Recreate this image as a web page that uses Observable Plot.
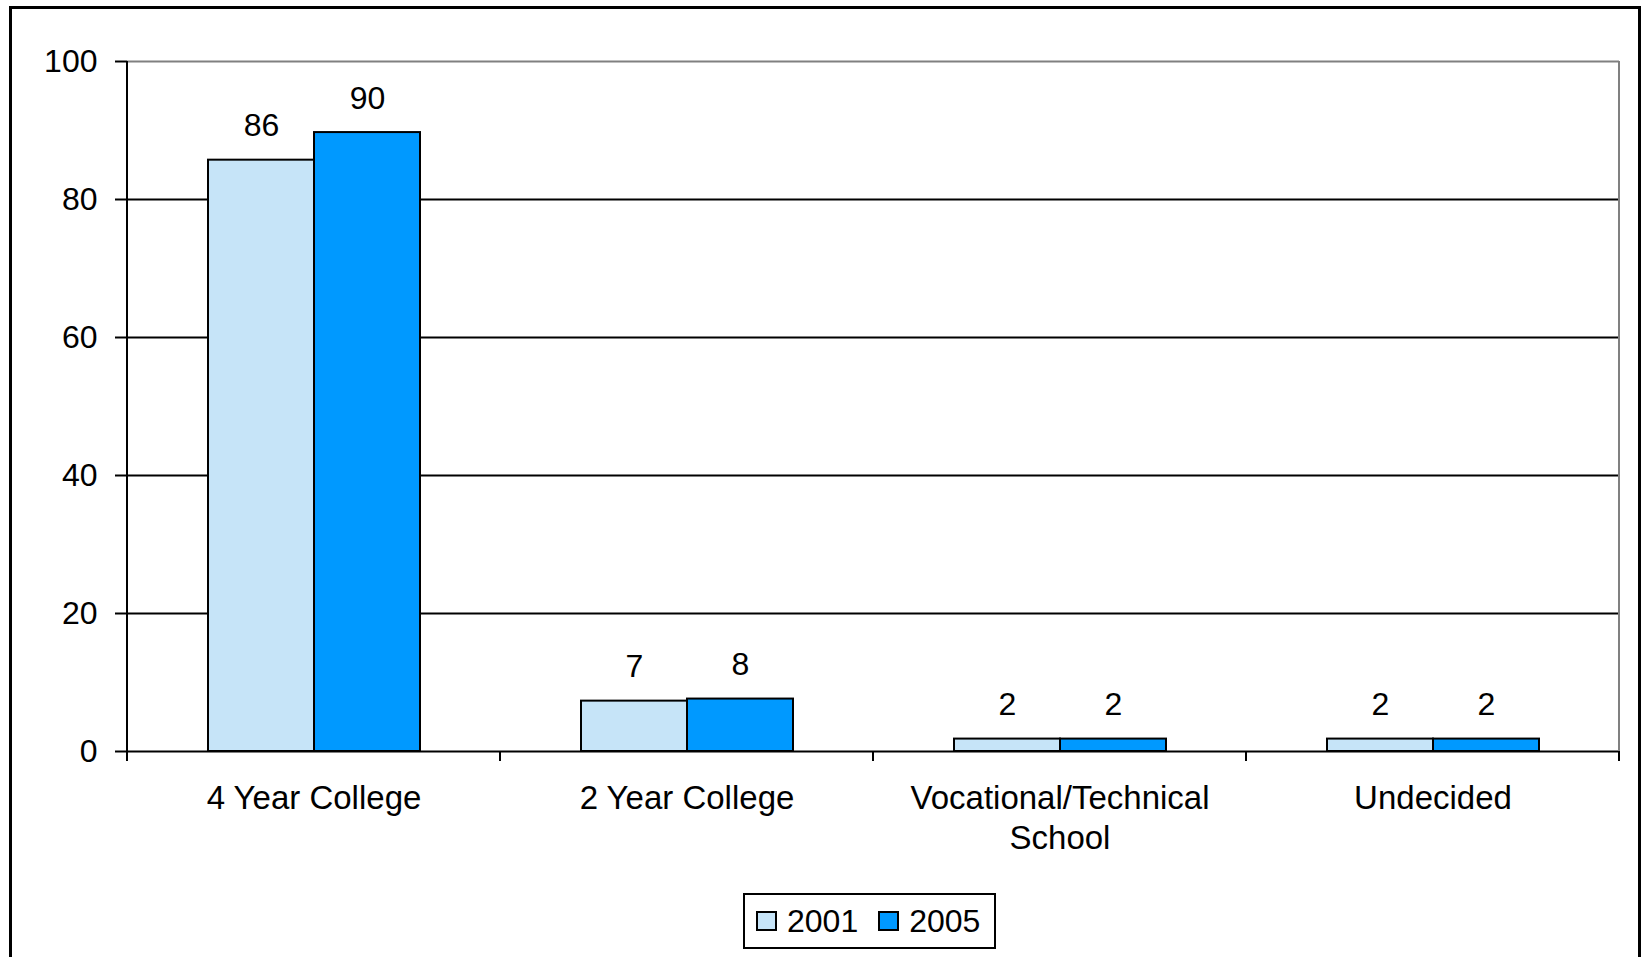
<!DOCTYPE html>
<html>
<head>
<meta charset="utf-8">
<script src="https://cdn.jsdelivr.net/npm/d3@7"></script>
<script src="https://cdn.jsdelivr.net/npm/@observablehq/plot@0.6"></script>
<style>
  body { margin: 0; background: #fff; font-family: "Liberation Sans", Arial, sans-serif; }
  #frame { position: absolute; left: 9px; top: 6px; width: 1632px; height: 970px; border: 3px solid #000; box-sizing: border-box; }
  #chart { position: absolute; left: 0; top: 0; }
  #legend { position: absolute; left: 743px; top: 893px; width: 253px; height: 56px; border: 2px solid #000; box-sizing: border-box;
            display: flex; align-items: center; padding-left: 11px; background: #fff; font-size: 32px; color: #000; }
  .sw { width: 21px; height: 20px; border: 2px solid #000; box-sizing: border-box; margin-right: 10px; }
  .item { display: flex; align-items: center; margin-right: 20px; }
</style>
</head>
<body>
<div id="frame"></div>
<div id="chart"></div>
<div id="legend"></div>
<script>
const categories = ["4 Year College", "2 Year College", "Vocational/Technical\nSchool", "Undecided"];
const years = ["2001", "2005"];
const values2001 = [85.7, 7.3, 1.8, 1.8];
const values2005 = [89.7, 7.6, 1.8, 1.8];
const yTicks = [0, 20, 40, 60, 80, 100];
const gridValues = [20, 40, 60, 80];
const colors = ["#C6E4F8", "#0099FF"];

const data = [];
categories.forEach((c, i) => {
  data.push({category: c, year: years[0], value: values2001[i]});
  data.push({category: c, year: years[1], value: values2005[i]});
});

const chart = Plot.plot({
  width: 1644,
  height: 880,
  marginTop: 61,
  marginBottom: 129,
  marginLeft: 127,
  marginRight: 25,
  style: {fontSize: "30px", fontFamily: "'Liberation Sans', Arial, sans-serif", color: "#000", background: "transparent"},
  fx: {domain: categories, padding: 0, label: null},
  x: {domain: years, paddingInner: 0, paddingOuter: 0.7594, axis: null},
  y: {domain: [0, 100], label: null},
  color: {domain: years, range: colors},
  marks: [
    Plot.ruleY(gridValues, {stroke: "#000", strokeWidth: 2}),
    Plot.ruleY([100], {stroke: "#808080", strokeWidth: 2}),
    Plot.barY(data, {fx: "category", x: "year", y: "value", fill: "year", stroke: "#000", strokeWidth: 2}),
    Plot.ruleY([0], {stroke: "#000", strokeWidth: 2}),
    Plot.text(data, {fx: "category", x: "year", y: "value", text: d => String(Math.round(d.value)), dy: -34, fill: "#000", fontSize: 32}),
    Plot.axisY({ticks: yTicks, tickSize: 12, tickPadding: 18, strokeWidth: 2, label: null, fill: "#000", fontSize: 32}),
    Plot.axisFx({anchor: "bottom", tickSize: 0, tickPadding: 29, lineHeight: 1.22, label: null, fill: "#000", fontSize: 33})
  ]
});
document.getElementById("chart").appendChild(chart);

// axis line, category boundary ticks and right frame line, placed with the plot's own scales
const fx = chart.scale("fx"), y = chart.scale("y");
const svg = d3.select(chart);
const g = svg.append("g");
const y0 = y.apply(0), y100 = y.apply(100);
const bounds = categories.map(c => fx.apply(c));
const rightEdge = bounds[bounds.length - 1] + fx.bandwidth;
g.append("line").attr("x1", rightEdge).attr("x2", rightEdge).attr("y1", y100).attr("y2", y0)
  .attr("stroke", "#808080").attr("stroke-width", 2);
g.append("line").attr("x1", bounds[0]).attr("x2", bounds[0]).attr("y1", y100).attr("y2", y0 + 10)
  .attr("stroke", "#000").attr("stroke-width", 2);
[...bounds.slice(1), rightEdge].forEach(xp => {
  g.append("line").attr("x1", xp).attr("x2", xp).attr("y1", y0).attr("y2", y0 + 10)
    .attr("stroke", "#000").attr("stroke-width", 2);
});

// legend
const legend = d3.select("#legend");
years.forEach((yr, i) => {
  const it = legend.append("div").attr("class", "item");
  it.append("div").attr("class", "sw").style("background", colors[i]);
  it.append("span").text(yr);
});
</script>
</body>
</html>
